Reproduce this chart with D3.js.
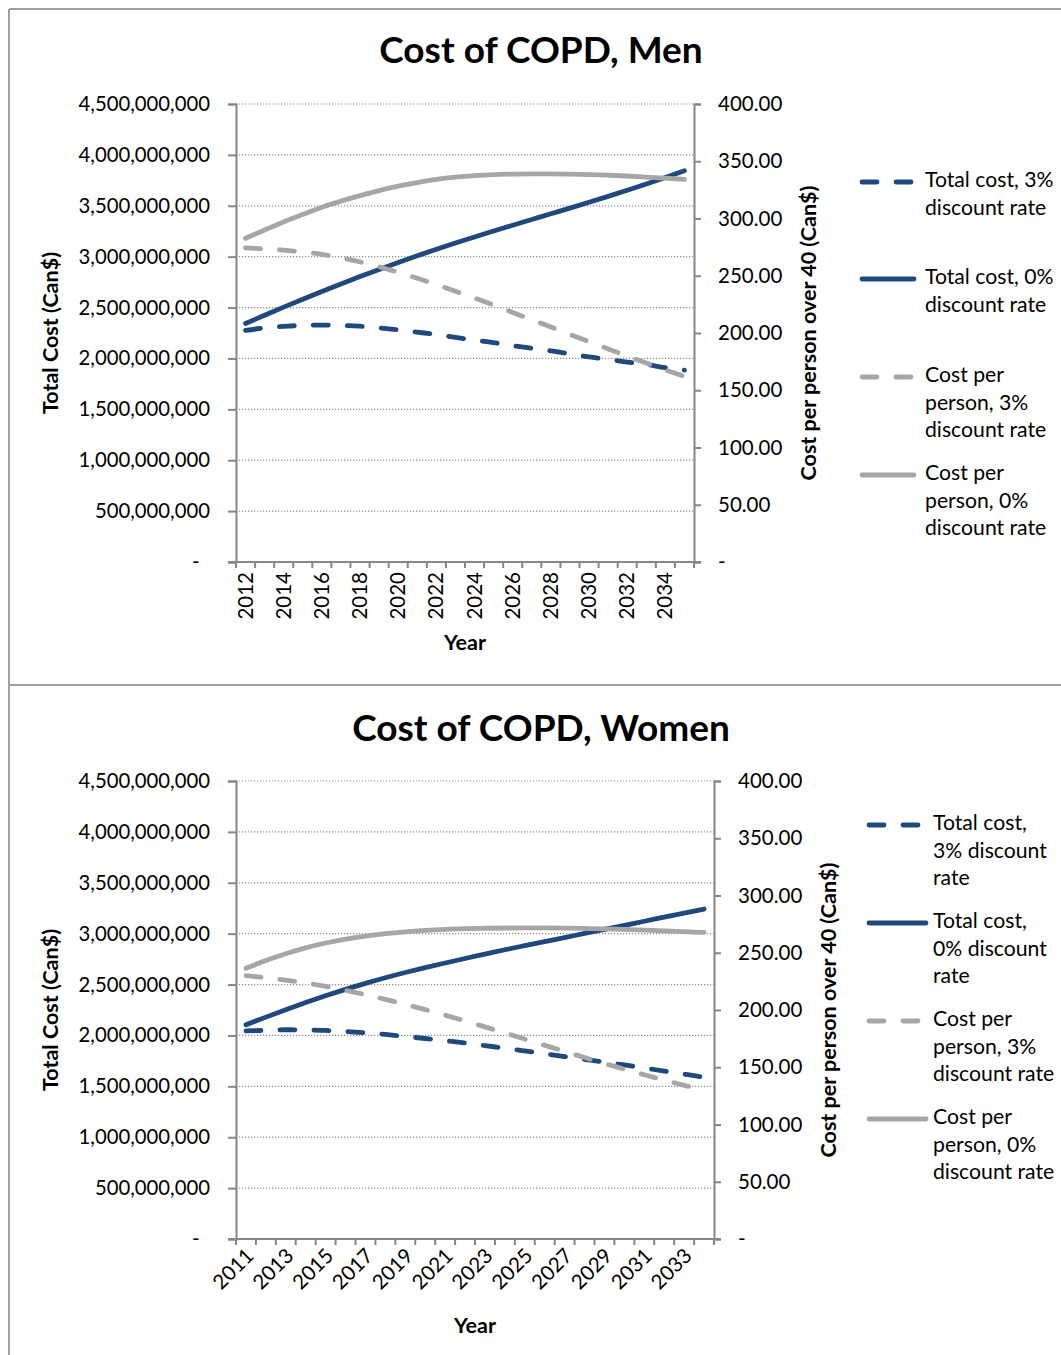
<!DOCTYPE html>
<html><head><meta charset="utf-8">
<script src="https://cdn.jsdelivr.net/npm/d3@7/dist/d3.min.js"></script>
<style>
body{margin:0;background:#fff;}
svg{display:block;font-family:Lato,"Open Sans",sans-serif;}
</style></head><body>
<svg id="c" width="1061" height="1355"></svg>
<script>
// ---------- DATA ----------
const menYears = [2012,2013,2014,2015,2016,2017,2018,2019,2020,2021,2022,2023,2024,2025,2026,2027,2028,2029,2030,2031,2032,2033,2034,2035];
const menTotal3 = [2.275,2.30,2.315,2.325,2.328,2.325,2.317,2.30,2.28,2.258,2.235,2.207,2.18,2.155,2.125,2.10,2.075,2.045,2.015,1.99,1.965,1.94,1.91,1.885].map(v=>v*1e9);
const menTotal0 = [2.344,2.424,2.504,2.582,2.658,2.732,2.804,2.874,2.942,3.008,3.072,3.134,3.194,3.252,3.309,3.365,3.421,3.477,3.534,3.592,3.652,3.714,3.778,3.844].map(v=>v*1e9);
const menPerson3 = [274.3,273.5,272.4,270.8,268.6,265.7,262.1,257.8,253,247.8,242.3,236.5,230.5,224.3,218,211.6,205.2,198.8,192.4,186.1,179.9,173.8,167.8,162];
const menPerson0 = [282.7,290,297,303.5,309.8,315.2,320,324.4,328.2,331.4,334.1,336.1,337.5,338.4,338.8,339,339,338.8,338.4,337.8,337.1,336.2,335.2,334.2];
const menXLabels = [2012,2014,2016,2018,2020,2022,2024,2026,2028,2030,2032,2034];

const womenYears = [2011,2012,2013,2014,2015,2016,2017,2018,2019,2020,2021,2022,2023,2024,2025,2026,2027,2028,2029,2030,2031,2032,2033,2034];
const womenTotal3 = [2.044,2.05,2.056,2.054,2.049,2.038,2.026,2.01,1.99,1.97,1.948,1.926,1.90,1.875,1.848,1.82,1.793,1.766,1.738,1.71,1.68,1.65,1.62,1.59].map(v=>v*1e9);
const womenTotal0 = [2.105,2.18,2.253,2.323,2.39,2.453,2.512,2.567,2.618,2.666,2.712,2.756,2.799,2.842,2.882,2.922,2.962,3.002,3.042,3.082,3.122,3.162,3.202,3.242].map(v=>v*1e9);
const womenPerson3 = [230,228.2,226.1,223.6,220.6,217.2,213.4,209.3,204.9,200.3,195.5,190.5,185.3,180,174.6,169.2,163.8,158.5,153.3,148.3,143.4,138.7,134.2,130];
const womenPerson0 = [236.4,243.2,249.2,254.3,258.5,261.9,264.6,266.7,268.3,269.5,270.4,271,271.4,271.6,271.7,271.7,271.55,271.25,270.85,270.35,269.8,269.15,268.45,267.75];
const womenXLabels = [2011,2013,2015,2017,2019,2021,2023,2025,2027,2029,2031,2033];

const leftTicks = [0,500000000,1000000000,1500000000,2000000000,2500000000,3000000000,3500000000,4000000000,4500000000];
const rightTicks = [0,50,100,150,200,250,300,350,400];

const seriesNames = ["Total cost, 3% discount rate","Total cost, 0% discount rate","Cost per person, 3% discount rate","Cost per person, 0% discount rate"];
const menLegendLines = [["Total cost, 3%","discount rate"],["Total cost, 0%","discount rate"],["Cost per","person, 3%","discount rate"],["Cost per","person, 0%","discount rate"]];
const womenLegendLines = [["Total cost,","3% discount","rate"],["Total cost,","0% discount","rate"],["Cost per","person, 3%","discount rate"],["Cost per","person, 0%","discount rate"]];

// ---------- STYLE ----------
const BLUE = "#1F497D", GREY = "#A6A6A6", AXIS = "#868686";
const styles = [
  {color:BLUE, dash:"15,19", axis:"left"},
  {color:BLUE, dash:null, axis:"left"},
  {color:GREY, dash:"15,19", axis:"right"},
  {color:GREY, dash:null, axis:"right"}
];

const svg = d3.select("#c");

// frames
svg.append("line").attr("x1",9).attr("x2",1061).attr("y1",9).attr("y2",9).attr("stroke","#A0A0A0").attr("stroke-width",2);
svg.append("line").attr("x1",9).attr("x2",9).attr("y1",9).attr("y2",1355).attr("stroke","#A0A0A0").attr("stroke-width",2);
svg.append("line").attr("x1",9).attr("x2",1061).attr("y1",685).attr("y2",685).attr("stroke","#A0A0A0").attr("stroke-width",2);

function drawChart(cfg){
  const g = svg.append("g");
  const x = d3.scaleBand().domain(cfg.years).range([cfg.left, cfg.right]).padding(0);
  const bw = x.bandwidth();
  const cx = d => x(d) + bw/2;
  const yL = d3.scaleLinear().domain([0,4500000000]).range([cfg.bottom, cfg.top]);
  const yR = d3.scaleLinear().domain([0,400]).range([cfg.bottom, cfg.top]);

  // title
  g.append("text").attr("x",541).attr("y",cfg.titleY).attr("text-anchor","middle")
    .attr("dominant-baseline","middle").attr("font-size",37).attr("font-weight","bold").text(cfg.title);

  // gridlines
  g.append("g").selectAll("line").data(leftTicks.filter(d=>d>0)).join("line")
    .attr("x1",cfg.left).attr("x2",cfg.right).attr("y1",d=>yL(d)).attr("y2",d=>yL(d))
    .attr("stroke","#8C8C8C").attr("stroke-width",1.2).attr("stroke-dasharray","1.2,1.8");

  // left axis
  const la = d3.axisLeft(yL).tickValues(leftTicks).tickSize(8).tickPadding(18)
    .tickFormat(d => d===0 ? "-  " : d3.format(",")(d));
  const lag = g.append("g").attr("transform",`translate(${cfg.left},0)`).call(la);
  lag.select(".domain").attr("stroke",AXIS).attr("stroke-width",2);
  lag.selectAll(".tick line").attr("stroke",AXIS).attr("stroke-width",2);
  lag.selectAll(".tick text").attr("font-size",20.3).attr("fill","#000").attr("font-family","Lato").style("white-space","pre");

  // right axis
  const ra = d3.axisRight(yR).tickValues(rightTicks).tickSize(7).tickPadding(17)
    .tickFormat(d => d===0 ? "-" : d3.format(".2f")(d));
  const rag = g.append("g").attr("transform",`translate(${cfg.right},0)`).call(ra);
  rag.select(".domain").attr("stroke",AXIS).attr("stroke-width",2);
  rag.selectAll(".tick line").attr("stroke",AXIS).attr("stroke-width",2);
  rag.selectAll(".tick text").attr("font-size",20.5).attr("fill","#000").attr("font-family","Lato");

  // bottom axis line + ticks at category boundaries
  g.append("line").attr("x1",cfg.left-8).attr("x2",cfg.right+7).attr("y1",cfg.bottom).attr("y2",cfg.bottom)
    .attr("stroke",AXIS).attr("stroke-width",2);
  const bounds = cfg.years.map(d=>x(d)).concat([cfg.right]);
  g.append("g").selectAll("line").data(bounds).join("line")
    .attr("x1",d=>d).attr("x2",d=>d).attr("y1",cfg.bottom).attr("y2",cfg.bottom+6)
    .attr("stroke",AXIS).attr("stroke-width",2);

  // x labels
  const xl = g.append("g").selectAll("text").data(cfg.xLabels).join("text")
    .attr("font-size",20.5).attr("text-anchor","end").text(d=>d);
  if(cfg.rot === -90){
    xl.attr("transform",d=>`translate(${cx(d)+7},${cfg.bottom+10}) rotate(-90)`);
  } else {
    xl.attr("transform",d=>`translate(${cx(d)+9},${cfg.bottom+18}) rotate(-45)`);
  }

  // axis titles
  g.append("text").attr("transform",`translate(${cfg.leftTitleX},${(cfg.top+cfg.bottom)/2}) rotate(-90)`)
    .attr("text-anchor","middle").attr("dominant-baseline","middle").attr("font-size",21.5).attr("font-weight","bold").text("Total Cost (Can$)");
  g.append("text").attr("transform",`translate(${cfg.rightTitleX},${(cfg.top+cfg.bottom)/2}) rotate(-90)`)
    .attr("text-anchor","middle").attr("dominant-baseline","middle").attr("font-size",21.5).attr("font-weight","bold").text("Cost per person over 40 (Can$)");
  g.append("text").attr("x",(cfg.left+cfg.right)/2).attr("y",cfg.yearY).attr("text-anchor","middle")
    .attr("dominant-baseline","middle").attr("font-size",21.5).attr("font-weight","bold").text("Year");

  // series
  cfg.series.forEach((vals,i)=>{
    const st = styles[i];
    const ys = st.axis==="left" ? yL : yR;
    const line = d3.line().x((d,j)=>cx(cfg.years[j])).y(d=>ys(d)).curve(d3.curveMonotoneX);
    g.append("path").datum(vals).attr("d",line).attr("fill","none")
      .attr("stroke",st.color).attr("stroke-width",4.8).attr("stroke-linecap","round")
      .attr("stroke-dasharray",st.dash);
  });

  // legend
  cfg.legendLines.forEach((lines,i)=>{
    const st = styles[i];
    const ly = cfg.legendY[i];
    g.append("line").attr("x1",cfg.legSampleX[0]).attr("x2",cfg.legSampleX[1]).attr("y1",ly).attr("y2",ly)
      .attr("stroke",st.color).attr("stroke-width",4.8).attr("stroke-linecap","round")
      .attr("stroke-dasharray",st.dash ? "15,19" : null);
    const t = g.append("text").attr("x",cfg.legTextX).attr("y",ly).attr("font-size",21.2).attr("dominant-baseline","middle");
    lines.forEach((s,k)=>t.append("tspan").attr("x",cfg.legTextX).attr("dy",k===0?0:27.5).text(s));
  });
}

drawChart({
  title:"Cost of COPD, Men", titleY:54, years:menYears, xLabels:menXLabels, rot:-90,
  left:236, right:694, top:104, bottom:562,
  leftTitleX:52, rightTitleX:810, yearY:644,
  series:[menTotal3, menTotal0, menPerson3, menPerson0],
  legendLines:menLegendLines, legendY:[182,279,377,475], legSampleX:[862,914], legTextX:925
});
drawChart({
  title:"Cost of COPD, Women", titleY:732, years:womenYears, xLabels:womenXLabels, rot:-45,
  left:236, right:714, top:781, bottom:1239,
  leftTitleX:52, rightTitleX:830, yearY:1327,
  series:[womenTotal3, womenTotal0, womenPerson3, womenPerson0],
  legendLines:womenLegendLines, legendY:[825,923,1021,1119], legSampleX:[869,926], legTextX:933
});
</script>
</body></html>
